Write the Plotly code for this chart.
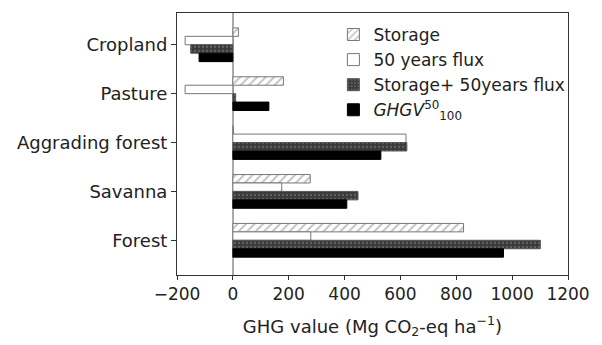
import plotly.graph_objects as go

categories = ["Cropland", "Pasture", "Aggrading forest", "Savanna", "Forest"]
storage = [20, 181, 2, 277, 826]
flux_50 = [-171, -171, 620, 175, 279]
storage_plus_flux = [-151, 10, 623, 448, 1101]
ghgv = [-121, 129, 530, 408, 969]
x_ticks = [-200, 0, 200, 400, 600, 800, 1000, 1200]
x_tick_labels = ["\u2212200", "0", "200", "400", "600", "800", "1000", "1200"]

FONT = "DejaVu Sans"
TXT = "#222222"

fig = go.Figure()
fig.add_trace(go.Bar(
    y=categories, x=storage, orientation="h", name="Storage", legendgroup="a",
    marker=dict(color="white", line=dict(color="#777777", width=1),
                pattern=dict(shape="/", fgcolor="#8a8a8a", bgcolor="white", size=6, solidity=0.35)),
))
fig.add_trace(go.Bar(
    y=categories, x=flux_50, orientation="h", name="50 years flux", legendgroup="b",
    marker=dict(color="white", line=dict(color="#777777", width=1)),
))
fig.add_trace(go.Bar(
    y=categories, x=storage_plus_flux, orientation="h", name="Storage+ 50years flux", legendgroup="c",
    marker=dict(color="#3a3a3a", line=dict(color="#555555", width=1),
                pattern=dict(shape=".", fgcolor="#8c8c8c", bgcolor="#3a3a3a", size=4, solidity=0.25)),
))
fig.add_trace(go.Bar(
    y=categories, x=ghgv, orientation="h", name="<i>GHGV</i><sup>50</sup><sub>100</sub>", legendgroup="d",
    marker=dict(color="black", line=dict(color="black", width=1)),
))

fig.update_layout(
    width=602, height=345,
    margin=dict(l=177, r=25, t=13, b=69),
    paper_bgcolor="white", plot_bgcolor="white",
    barmode="group", bargap=0.31, bargroupgap=0,
    font=dict(family=FONT, color=TXT, size=17),
    showlegend=True,
    legend=dict(x=0.40, y=0.985, xanchor="left", yanchor="top",
                font=dict(family=FONT, size=17, color=TXT),
                bgcolor="rgba(0,0,0,0)", tracegroupgap=6, traceorder="normal"),
    xaxis=dict(range=[-200, 1200], tickvals=x_ticks, ticktext=x_tick_labels,
               showgrid=False, zeroline=True, zerolinecolor="#aaaaaa", zerolinewidth=1.5,
               showline=True, linecolor="#333333", linewidth=1, mirror=True,
               ticks="outside", ticklen=4, tickcolor="#333333",
               tickfont=dict(family=FONT, size=17, color=TXT),
               title=dict(text="GHG value (Mg CO<sub>2</sub>-eq ha<sup>\u22121</sup>)",
                          font=dict(family=FONT, size=18, color=TXT), standoff=16)),
    yaxis=dict(range=[4.71, -0.65], showgrid=False, zeroline=False,
               showline=True, linecolor="#333333", linewidth=1, mirror=True,
               ticks="outside", ticklen=5, tickcolor="#333333",
               tickfont=dict(family=FONT, size=18, color=TXT)),
)

fig.write_html("out.html")
